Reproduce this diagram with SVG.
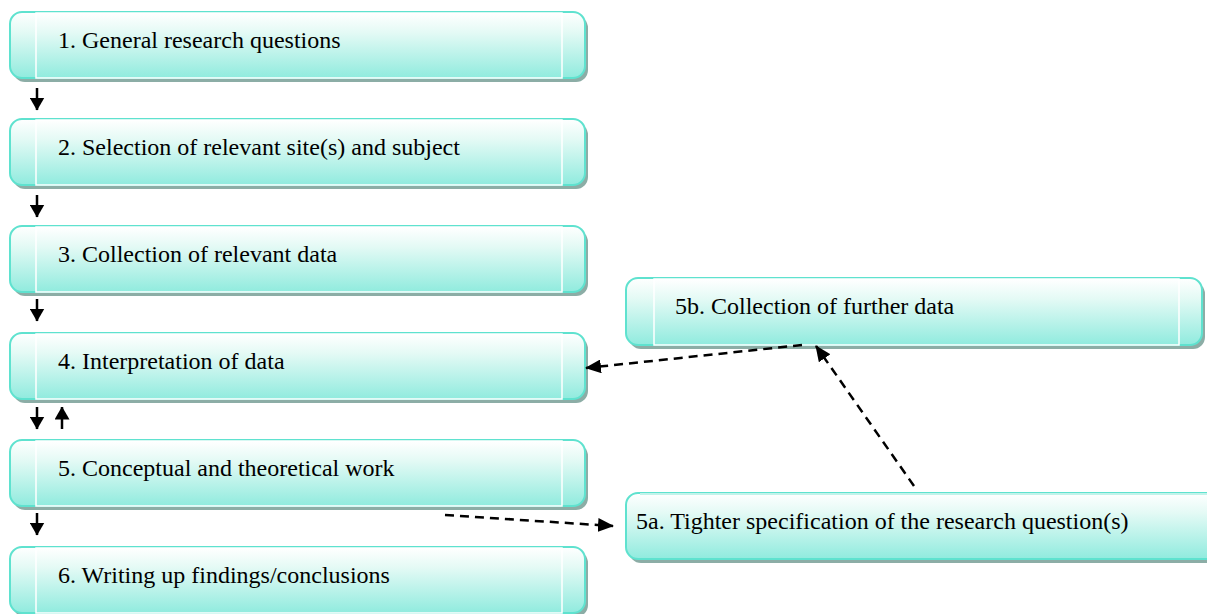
<svg xmlns="http://www.w3.org/2000/svg" width="1207" height="614" viewBox="0 0 1207 614">
<defs>
<linearGradient id="g" x1="0" y1="0" x2="0" y2="1">
<stop offset="0" stop-color="#ffffff"/>
<stop offset="0.3" stop-color="#e4faf5"/>
<stop offset="1" stop-color="#90ebde"/>
</linearGradient>
<marker id="ah" viewBox="0 0 16 14" refX="15" refY="7" markerWidth="16" markerHeight="14" orient="auto" markerUnits="userSpaceOnUse">
<path d="M0,0 L16,7 L0,14 z" fill="#000"/>
</marker>
<marker id="sh" viewBox="0 0 13 15" refX="12.5" refY="7.5" markerWidth="13" markerHeight="15" orient="auto" markerUnits="userSpaceOnUse">
<path d="M0,0 L13,7.5 L0,15 z" fill="#000"/>
</marker>
</defs>
<style>
.sh{fill:#8cada6}
.out{fill:url(#g);stroke:#5fe2cf;stroke-width:2}
.in{fill:url(#g);stroke:#ffffff;stroke-width:1.5}
.top{stroke:#c2f3ea;stroke-width:2}
text{font-family:"Liberation Serif","Times New Roman",serif;font-size:24px;fill:#000}
.solid{stroke:#000;stroke-width:2.5;fill:none}
.dash{stroke:#000;stroke-width:2.5;fill:none;stroke-dasharray:9 6}
</style>
<rect width="1207" height="614" fill="#ffffff"/>

<g id="n1">
<rect class="sh" x="13" y="16" width="575" height="66" rx="12"/>
<rect class="out" x="10" y="12" width="575" height="66" rx="12"/>
<rect class="in" x="36" y="13" width="526" height="65"/>
<text x="58" y="48">1. General research questions</text>
</g>
<g id="n2">
<rect class="sh" x="13" y="123" width="575" height="66" rx="12"/>
<rect class="out" x="10" y="119" width="575" height="66" rx="12"/>
<rect class="in" x="36" y="120" width="526" height="65"/>
<text x="58" y="155">2. Selection of relevant site(s) and subject</text>
</g>
<g id="n3">
<rect class="sh" x="13" y="230" width="575" height="66" rx="12"/>
<rect class="out" x="10" y="226" width="575" height="66" rx="12"/>
<rect class="in" x="36" y="227" width="526" height="65"/>
<text x="58" y="262">3. Collection of relevant data</text>
</g>
<g id="n4">
<rect class="sh" x="13" y="337" width="575" height="66" rx="12"/>
<rect class="out" x="10" y="333" width="575" height="66" rx="12"/>
<rect class="in" x="36" y="334" width="526" height="65"/>
<text x="58" y="369">4. Interpretation of data</text>
</g>
<g id="n5">
<rect class="sh" x="13" y="444" width="575" height="66" rx="12"/>
<rect class="out" x="10" y="440" width="575" height="66" rx="12"/>
<rect class="in" x="36" y="441" width="526" height="65"/>
<text x="58" y="476">5. Conceptual and theoretical work</text>
</g>
<g id="n6">
<rect class="sh" x="13" y="551" width="575" height="66" rx="12"/>
<rect class="out" x="10" y="547" width="575" height="66" rx="12"/>
<rect class="in" x="36" y="548" width="526" height="65"/>
<text x="58" y="583">6. Writing up findings/conclusions</text>
</g>
<g id="n5b">
<rect class="sh" x="629" y="282" width="576" height="67" rx="12"/>
<rect class="out" x="626" y="278" width="576" height="67" rx="12"/>
<rect class="in" x="654" y="279" width="525" height="66"/>
<text x="675" y="314">5b. Collection of further data</text>
</g>
<g id="n5a">
<rect class="sh" x="629" y="497" width="600" height="66" rx="12"/>
<rect class="out" x="626" y="493" width="600" height="66" rx="12"/>
<line class="top" x1="640" y1="494" x2="1207" y2="494"/>
<text x="636" y="529">5a. Tighter specification of the research question(s)</text>
</g>

<g id="connectors">
<line class="solid" x1="37" y1="88" x2="37" y2="110" marker-end="url(#sh)"/>
<line class="solid" x1="37" y1="195" x2="37" y2="217" marker-end="url(#sh)"/>
<line class="solid" x1="37" y1="299" x2="37" y2="321" marker-end="url(#sh)"/>
<line class="solid" x1="37" y1="407" x2="37" y2="429" marker-end="url(#sh)"/>
<line class="solid" x1="62" y1="429" x2="62" y2="407" marker-end="url(#sh)"/>
<line class="solid" x1="37" y1="513" x2="37" y2="535" marker-end="url(#sh)"/>
<line class="dash" x1="802" y1="345" x2="586" y2="368" marker-end="url(#ah)"/>
<line class="dash" x1="914" y1="486" x2="816" y2="346" marker-end="url(#ah)"/>
<line class="dash" x1="445" y1="515" x2="613" y2="526" marker-end="url(#ah)"/>
</g>
</svg>
